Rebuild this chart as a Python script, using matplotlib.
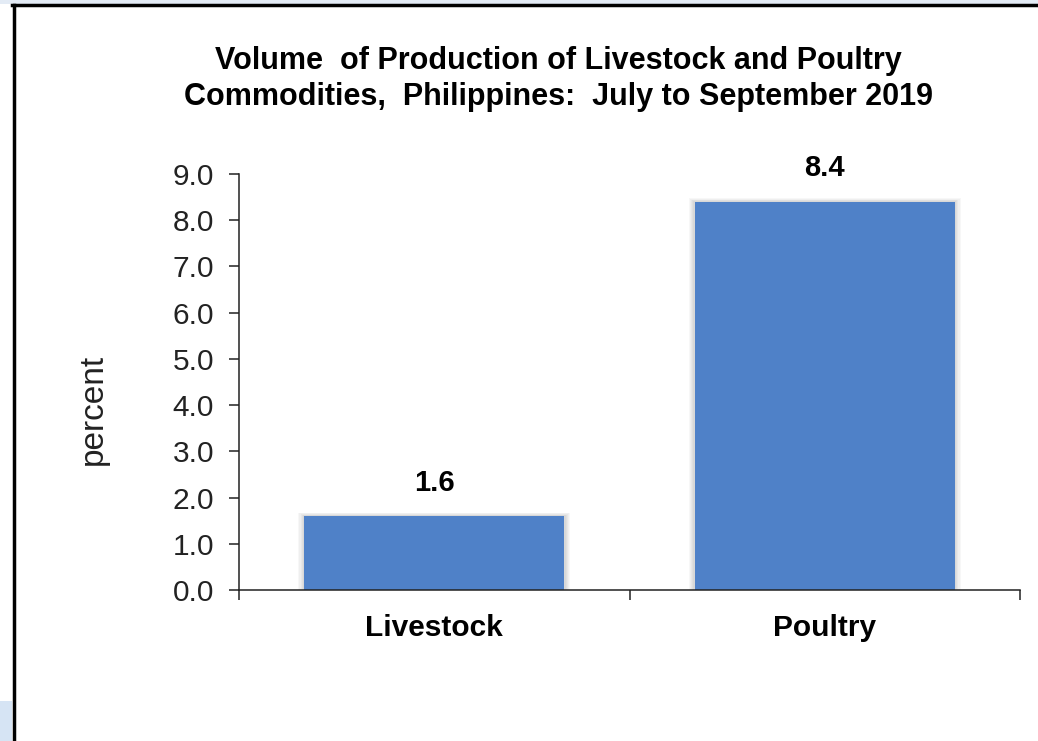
import matplotlib.pyplot as plt
from matplotlib.patches import Rectangle
from matplotlib.lines import Line2D

# data
categories = ['Livestock', 'Poultry']
values = [1.6, 8.4]
yticks = [0, 1, 2, 3, 4, 5, 6, 7, 8, 9]
title = ('Volume  of Production of Livestock and Poultry\n'
         'Commodities,  Philippines:  July to September 2019')

plt.rcParams['font.family'] = ['Liberation Sans', 'DejaVu Sans']

fig = plt.figure(figsize=(10.38, 7.41), dpi=100)
fig.patch.set_facecolor('white')

# light blue strips outside the framed chart area
fig.patches.append(Rectangle((0, 1 - 4 / 741), 1, 4 / 741, transform=fig.transFigure,
                             facecolor='#e3ebf5', edgecolor='none'))
fig.patches.append(Rectangle((0, 0), 12 / 1038, 40 / 741, transform=fig.transFigure,
                             facecolor='#d6e4f4', edgecolor='none'))
# black frame (left and top only visible)
fig.lines.append(Line2D([13.5 / 1038, 13.5 / 1038], [0, 1 - 5 / 741],
                        transform=fig.transFigure, color='black', lw=2.5))
fig.lines.append(Line2D([12.3 / 1038, 1], [1 - 5 / 741, 1 - 5 / 741],
                        transform=fig.transFigure, color='black', lw=2.5))

ax = fig.add_axes([239 / 1038, 1 - 590 / 741, (1020 - 239) / 1038, (590 - 174) / 741])
x = list(range(len(categories)))

# soft shadow behind the bars
for k in range(1, 6):
    ax.bar(x, [v + 0.015 * k for v in values], width=0.667 + 0.006 * k,
           color='black', alpha=0.03, zorder=1, linewidth=0)
ax.bar(x, values, width=0.667, color='#4f81c8', zorder=2, linewidth=0)

for xi, v in zip(x, values):
    ax.annotate(f'{v:.1f}', (xi, v), xytext=(0, 14), textcoords='offset points',
                ha='center', va='bottom', fontsize=21, fontweight='bold')

ax.set_xlim(-0.5, 1.5)
ax.set_ylim(0, 9)
ax.set_yticks(yticks)
ax.set_yticklabels([f'{t:.1f}' for t in yticks], fontsize=21.5, color='#222222')
ax.tick_params(axis='y', direction='out', length=7, width=1.1, pad=11, color='#222222')

ax.set_xticks(x)
ax.set_xticklabels(categories, fontsize=21.5, fontweight='bold')
ax.set_xticks([-0.5, 0.5, 1.5], minor=True)
ax.tick_params(axis='x', which='major', length=0, pad=17)
ax.tick_params(axis='x', which='minor', direction='out', length=7, width=1.1, color='#222222')

for s in ['top', 'right']:
    ax.spines[s].set_visible(False)
for s in ['left', 'bottom']:
    ax.spines[s].set_linewidth(1.1)
    ax.spines[s].set_color('#222222')

ax.set_ylabel('percent', fontsize=24, color='#222222')
ax.yaxis.set_label_coords(-0.167, 0.433)

fig.text(558 / 1038, 1 - 46 / 741, title, ha='center', va='top', fontsize=22,
         fontweight='bold', linespacing=1.27)

fig.savefig('out.png', dpi=100)
